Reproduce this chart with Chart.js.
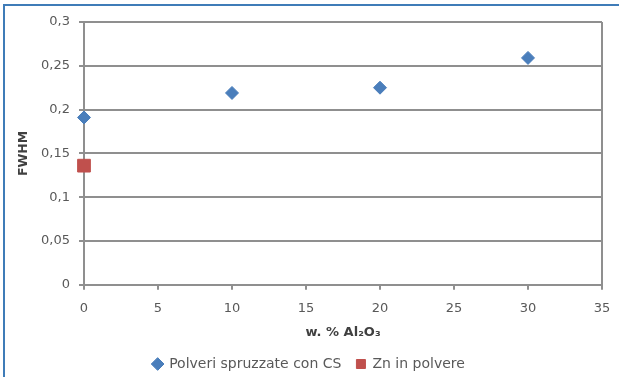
<!DOCTYPE html>
<html>
<head>
<meta charset="utf-8">
<script src="https://cdn.jsdelivr.net/npm/chart.js@4"></script>
<style>
  body { margin: 0; background: #fff; }
  #wrap { position: relative; width: 619px; height: 377px; }
  #frame { position: absolute; left: 3px; top: 4px; right: 0; bottom: 0; border-left: 2px solid #3f7cb8; border-top: 2px solid #3f7cb8; }
  canvas { position: absolute; left: 0; top: 0; }
</style>
</head>
<body>
<div id="wrap">
  <div id="frame"></div>
  <canvas id="chart" width="619" height="377"></canvas>
</div>
<script>
// values
const sprayX = [0, 10, 20, 30];
const sprayY = [0.191, 0.219, 0.225, 0.259];
const powderX = [0];
const powderY = [0.136];
const seriesNames = ["Polveri spruzzate con CS", "Zn in polvere"];

const GRID = "#8f8f8f";
const TXT = "#595959";
const FONT = "'DejaVu Sans', 'Liberation Sans', sans-serif";

function toPoints(xs, ys) {
  return xs.map((x, i) => ({ x: x, y: ys[i] }));
}

const ctx = document.getElementById("chart");
const myChart = new Chart(ctx, {
  type: "scatter",
  data: {
    datasets: [
      {
        label: seriesNames[0],
        data: toPoints(sprayX, sprayY),
        pointStyle: "rectRot",
        pointRadius: 6.5,
        backgroundColor: "#4a7ebb",
        borderColor: "#4a7ebb",
        clip: false,
      },
      {
        label: seriesNames[1],
        data: toPoints(powderX, powderY),
        pointStyle: "rect",
        pointRadius: 9,
        backgroundColor: "#c0504d",
        borderColor: "#c0504d",
        clip: false,
      },
    ],
  },
  options: {
    responsive: false,
    animation: false,
    layout: { padding: { left: 16, right: 17, top: 22, bottom: -4 } },
    plugins: {
      tooltip: { enabled: false },
      legend: {
        position: "bottom",
        labels: {
          usePointStyle: true,
          boxWidth: 9,
          boxHeight: 9,
          padding: 15,
          color: TXT,
          font: { family: FONT, size: 14 },
        },
      },
    },
    scales: {
      x: {
        type: "linear",
        min: 0,
        max: 35,
        afterFit: (axis) => { axis.paddingRight = 0; },
        ticks: { stepSize: 5, color: TXT, font: { family: FONT, size: 13 }, padding: 11 },
        grid: {
          drawOnChartArea: true,
          color: (c) => (c.tick && c.tick.value === 35 ? GRID : "transparent"),
          tickColor: GRID,
          tickLength: 5,
          lineWidth: 2,
        },
        border: { color: GRID, width: 2 },
        title: {
          display: true,
          text: "w. % Al₂O₃",
          color: "#404040",
          font: { family: FONT, size: 13, weight: "bold" },
          padding: { top: -3, bottom: 2 },
        },
      },
      y: {
        min: 0,
        max: 0.3,
        afterFit: (axis) => { axis.width = 68; },
        ticks: {
          stepSize: 0.05,
          color: TXT,
          font: { family: FONT, size: 13 },
          padding: 9,
          callback: (v) => String(+v.toFixed(2)).replace(".", ","),
        },
        grid: { color: GRID, lineWidth: 2, tickLength: 5 },
        border: { color: GRID, width: 2 },
        title: {
          display: true,
          text: "FWHM",
          color: "#404040",
          font: { family: FONT, size: 12.5, weight: "bold" },
          padding: 0,
        },
      },
    },
  },
});
</script>
</body>
</html>
